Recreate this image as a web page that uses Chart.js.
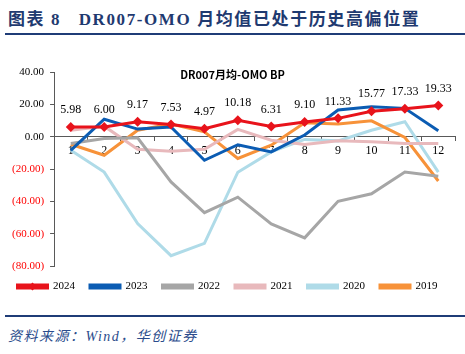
<!DOCTYPE html>
<html>
<head>
<meta charset="utf-8">
<script src="https://cdn.jsdelivr.net/npm/chart.js@4"></script>
<style>
  html, body { margin: 0; padding: 0; background: #fff; }
  body { width: 465px; height: 354px; position: relative; overflow: hidden; }
  .head {
    position: absolute; left: 8px; top: 5px;
    font: bold 17px "Liberation Serif", "Noto Sans CJK SC", serif;
    color: #1f3a70; letter-spacing: 1.6px; white-space: nowrap;
  }
  .rule { position: absolute; left: 5px; right: 0; height: 2px; background: #1f3c77; }
  .foot {
    position: absolute; left: 8px; top: 325px;
    font: italic 14px "Liberation Serif", "Noto Sans CJK SC", serif;
    color: #2b4c8c; letter-spacing: 1.5px; white-space: nowrap;
  }
  #wrap { position: absolute; left: 0; top: 40px; width: 465px; height: 262px; }
</style>
</head>
<body>
<div class="head">图表 8&nbsp;&nbsp;&nbsp;DR007-OMO 月均值已处于历史高偏位置</div>
<div class="rule" style="top:33px"></div>
<div id="wrap"><canvas id="myChart"></canvas></div>
<div class="rule" style="top:315px"></div>
<div class="foot">资料来源：Wind，华创证券</div>
<script>
(() => {
    'use strict'

    const months = ['1', '2', '3', '4', '5', '6', '7', '8', '9', '10', '11', '12']
    const y2024 = [5.98, 6.00, 9.17, 7.53, 4.97, 10.18, 6.31, 9.10, 11.33, 15.77, 17.33, 19.33]
    const y2023 = [-8.5, 10.8, 4.7, 6.0, -14.6, -5.0, -9.4, 1.0, 16.5, 18.5, 17.5, 3.6]
    const y2022 = [-4.2, -1.1, -0.7, -28.0, -47.0, -37.4, -54.0, -62.6, -40.0, -35.3, -21.9, -24.5]
    const y2021 = [4.0, 6.5, -7.8, -9.0, -7.8, 4.5, -2.2, -4.8, -2.6, -3.2, -4.2, -4.2]
    const y2020 = [-8.4, -21.9, -53.7, -73.6, -66.0, -22.0, -9.4, -1.7, -2.6, 4.0, 9.2, -21.9]
    const y2019 = [-4.7, -11.5, 4.0, 7.8, 3.0, -13.5, -5.3, 8.6, 7.8, 9.8, -0.5, -27.4]
    const yTicks = [40, 20, 0, -20, -40, -60, -80]

    const serif = '"Liberation Serif", "Times New Roman", serif'

    const line = (label, data, color, extra) => Object.assign({
        label: label,
        data: data,
        borderColor: color,
        backgroundColor: color,
        borderWidth: 3,
        pointRadius: 0,
        tension: 0
    }, extra || {})

    // labels above the 2024 points, chart title, legend diamond
    const extras = {
        id: 'extras',
        afterDatasetsDraw(chart) {
            const c = chart.ctx
            const meta = chart.getDatasetMeta(0)
            c.save()
            c.fillStyle = '#000'
            c.font = '12px ' + serif
            c.textAlign = 'center'
            c.textBaseline = 'middle'
            meta.data.forEach((pt, i) => {
                c.fillText(y2024[i].toFixed(2), pt.x, pt.y - 17)
            })
            const area = chart.chartArea
            c.font = 'bold 11px "Noto Sans CJK SC", sans-serif'
            c.fillText('DR007月均-OMO BP', (area.left + area.right) / 2 - 22, area.top + 3)
            c.restore()
        },
        afterDraw(chart) {
            const box = chart.legend.legendHitBoxes[0]
            if (!box) return
            const c = chart.ctx
            const cx = box.left + 15
            const cy = box.top + box.height / 2
            c.save()
            c.fillStyle = '#e8131b'
            c.beginPath()
            c.moveTo(cx, cy - 4)
            c.lineTo(cx + 4, cy)
            c.lineTo(cx, cy + 4)
            c.lineTo(cx - 4, cy)
            c.closePath()
            c.fill()
            c.restore()
        }
    }

    const ctx = document.getElementById('myChart')
    // eslint-disable-next-line no-unused-vars
    const myChart = new Chart(ctx, {
        type: 'line',
        data: {
            labels: months,
            datasets: [
                line('2024', y2024, '#e8131b', {
                    pointRadius: 5,
                    pointStyle: 'rectRot',
                    pointBackgroundColor: '#e8131b',
                    pointBorderWidth: 0,
                    order: 0
                }),
                line('2023', y2023, '#0b5cb3', { order: 1 }),
                line('2022', y2022, '#a6a6a6', { order: 2 }),
                line('2021', y2021, '#e8b9bc', { order: 3 }),
                line('2020', y2020, '#afdbe8', { order: 5 }),
                line('2019', y2019, '#f79239', { order: 4 })
            ]
        },
        options: {
            responsive: true,
            maintainAspectRatio: false,
            animation: false,
            layout: { padding: { top: 32, right: 10, left: 0, bottom: 0 } },
            scales: {
                x: {
                    type: 'category',
                    position: { y: 0 },
                    offset: true,
                    grid: {
                        offset: true,
                        drawOnChartArea: false,
                        drawTicks: true,
                        tickLength: 4,
                        color: '#595959'
                    },
                    border: { display: true, color: '#595959', width: 1 },
                    ticks: {
                        color: '#000',
                        font: { family: serif, size: 12 },
                        padding: 3,
                        maxRotation: 0
                    }
                },
                y: {
                    min: -80,
                    max: 40,
                    afterBuildTicks(scale) {
                        scale.ticks = yTicks.map(v => ({ value: v }))
                    },
                    afterFit(scale) {
                        scale.width += 6
                    },
                    grid: {
                        drawOnChartArea: false,
                        drawTicks: true,
                        tickLength: 4,
                        color: '#595959'
                    },
                    border: { display: true, color: '#595959', width: 1 },
                    ticks: {
                        font: { family: serif, size: 11 },
                        padding: 6,
                        color: (c) => (c.tick && c.tick.value < 0 ? '#ff0000' : '#000'),
                        callback: (v) => (v < 0 ? '(' + Math.abs(v).toFixed(2) + ')' : v.toFixed(2))
                    }
                }
            },
            plugins: {
                legend: {
                    position: 'bottom',
                    labels: {
                        boxWidth: 30,
                        boxHeight: 3,
                        padding: 15,
                        color: '#000',
                        font: { family: serif, size: 11 },
                        sort: (a, b) => a.datasetIndex - b.datasetIndex
                    }
                },
                tooltip: { enabled: false }
            }
        },
        plugins: [extras]
    })
})()
</script>
</body>
</html>
